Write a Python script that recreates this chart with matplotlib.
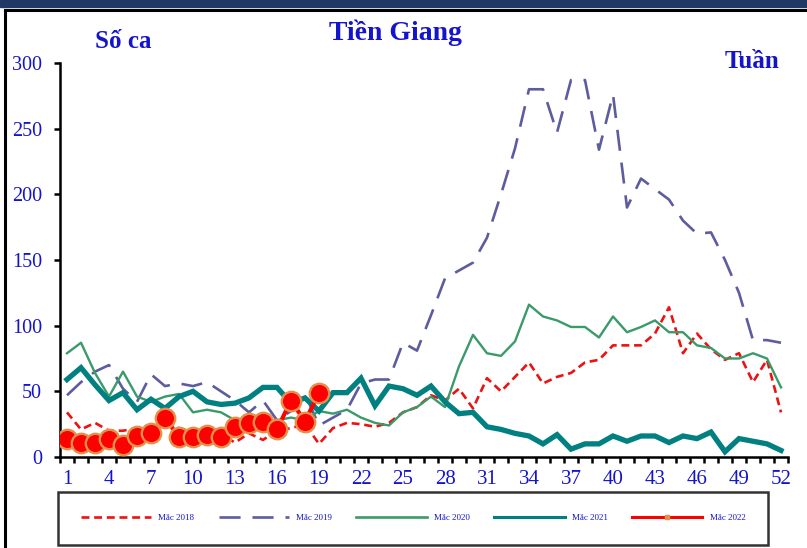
import numpy as np
import matplotlib
matplotlib.use("Agg")
import matplotlib.pyplot as plt
from matplotlib.lines import Line2D
from matplotlib.patches import Rectangle

weeks = list(range(1, 53))
labels = ["Mắc 2018", "Mắc 2019", "Mắc 2020", "Mắc 2021", "Mắc 2022"]

y2018 = [34, 21, 26, 20, 20, 22, 22, 28, 22, 19, 18, 17, 11, 18, 13, 20, 22, 25, 10, 22,
         26, 25, 23, 26, 34, 38, 47, 43, 52, 37, 60, 50, 61, 72, 56, 61, 64, 72, 74, 85,
         85, 85, 94, 114, 79, 94, 82, 74, 79, 57, 74, 34]
y2019 = [47, 57, 65, 70, 52, 42, 63, 54, 56, 54, 57, 50, 43, 34, 43, 28, 35, 48, 24, 30,
         36, 56, 59, 59, 87, 81, 108, 136, 142, 148, 167, 200, 235, 280, 280, 247, 287, 287, 234, 276,
         190, 212, 204, 196, 180, 170, 171, 150, 125, 89, 89, 87]
y2020 = [79, 87, 64, 46, 65, 46, 42, 46, 48, 34, 36, 34, 28, 24, 26, 28, 30, 28, 35, 33,
         36, 30, 26, 24, 34, 38, 46, 38, 69, 93, 79, 77, 88, 116, 107, 104, 99, 99, 91, 107,
         95, 99, 104, 95, 95, 85, 83, 75, 75, 79, 75, 53]
y2021 = [59, 68, 55, 43, 49, 36, 44, 37, 46, 50, 42, 40, 41, 45, 53, 53, 41, 45, 35, 49,
         49, 60, 39, 54, 52, 47, 54, 42, 33, 34, 23, 21, 18, 16, 10, 17, 6, 10, 10, 16,
         12, 16, 16, 11, 16, 14, 19, 4, 14, 12, 10, 5]
y2022 = [14, 11, 11, 14, 9, 16, 18, 30, 15, 15, 17, 15, 23, 26, 27, 21, 43, 27, 49]

yticks = [0, 50, 100, 150, 200, 250, 300]
xtick_weeks = weeks[::3]

BLUE = "#1414CC"
SERIF = ["Liberation Serif", "DejaVu Serif"]
plt.rcParams["font.family"] = SERIF

fig = plt.figure(figsize=(8.07, 5.48), dpi=100)
ax = fig.add_axes([60 / 807, 1 - 457 / 548, 728 / 807, 394 / 548])

c18, c19, c20, c21, c22 = "#EE1111", "#5C5C9E", "#3A9A6A", "#008080", "#FF0000"

ax.plot(weeks, y2018, color=c18, lw=1.9, linestyle=(0, (3, 1.8)), zorder=2)
ax.plot(weeks, y2019, color=c19, lw=1.9, linestyle=(0, (8, 4.5)), zorder=2)
ax.plot(weeks, y2020, color=c20, lw=1.7, zorder=3)
ax.plot(weeks, y2021, color=c21, lw=3.8, solid_joinstyle="miter", zorder=4)
ax.plot(weeks[:len(y2022)], y2022, color=c22, lw=3.0, marker="o", markersize=14,
        markerfacecolor="#FF0000", markeredgecolor="#E5904A", markeredgewidth=1.7, zorder=5)

ax.set_xlim(0.5, 52.5)
ax.set_ylim(0, 300)
ax.set_yticks(yticks)
ax.set_yticklabels([str(v) for v in yticks])
ax.set_xticks(np.arange(0.5, 53, 1))
ax.set_xticklabels([])
ax.set_xticks(xtick_weeks, minor=True)
ax.set_xticklabels([str(w) for w in xtick_weeks], minor=True)

for s in ["top", "right"]:
    ax.spines[s].set_visible(False)
for s in ["left", "bottom"]:
    ax.spines[s].set_linewidth(1.8)
    ax.spines[s].set_color("black")

ax.tick_params(axis="y", direction="out", length=4, width=1.8, colors="black",
               labelcolor=BLUE, labelsize=14.5, pad=9)
ax.tick_params(axis="x", which="major", direction="out", length=4.5, width=1.8, colors="black")
ax.tick_params(axis="x", which="minor", length=0, labelcolor=BLUE, labelsize=15, pad=9)

fig.text(395 / 807, 1 - 33 / 548, "Tiền Giang", ha="center", va="center",
         fontsize=20, fontweight="bold", color=BLUE)
fig.text(123 / 807, 1 - 42 / 548, "Số ca", ha="center", va="center",
         fontsize=18, fontweight="bold", color=BLUE)
fig.text(752 / 807, 1 - 62 / 548, "Tuần", ha="center", va="center",
         fontsize=18, fontweight="bold", color=BLUE)

handles = [
    Line2D([], [], color=c18, lw=1.9, linestyle=(0, (3, 1.8))),
    Line2D([], [], color=c19, lw=1.9, linestyle=(0, (8, 4.5))),
    Line2D([], [], color=c20, lw=1.9),
    Line2D([], [], color=c21, lw=2.2),
    Line2D([], [], color=c22, lw=2.2, marker="s", markersize=3.5,
           markerfacecolor="#E5904A", markeredgecolor="#E5904A"),
]
leg = fig.legend(handles, labels, loc="lower left",
                 bbox_to_anchor=(58 / 807, 1 - 545 / 548, 710 / 807, 53 / 548),
                 mode="expand", ncol=5, fontsize=6.5, handlelength=7.8,
                 handletextpad=0.8, borderpad=2.5, borderaxespad=0, fancybox=False,
                 frameon=True, labelcolor=BLUE)
leg.get_frame().set_edgecolor("black")
leg.get_frame().set_linewidth(1.8)

# outer frame decorations
fig.add_artist(Rectangle((0, 1 - 7 / 548), 1, 7 / 548, transform=fig.transFigure,
                         color="#1F3864", zorder=10))
fig.add_artist(Line2D([5 / 807, 1], [1 - 10 / 548, 1 - 10 / 548], transform=fig.transFigure,
                      color="black", lw=2.2))
fig.add_artist(Line2D([5 / 807, 5 / 807], [0, 1 - 10 / 548], transform=fig.transFigure,
                      color="black", lw=2.2))

fig.savefig("out.png", dpi=100)
